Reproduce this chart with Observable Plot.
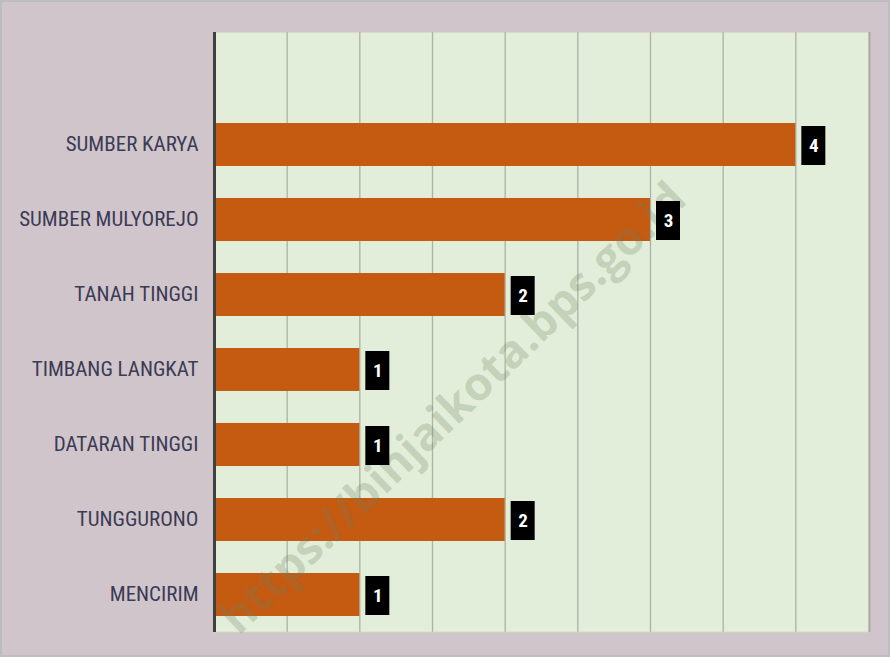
<!DOCTYPE html>
<html>
<head>
<meta charset="utf-8">
<script src="https://cdn.jsdelivr.net/npm/d3@7"></script>
<script src="https://cdn.jsdelivr.net/npm/@observablehq/plot@0.6"></script>
<style>
  html, body { margin: 0; padding: 0; background: #d0c5cb; }
  #wrap { position: relative; width: 890px; height: 657px; overflow: hidden; }
  #wrap svg { display: block; }
  #border { position: absolute; left: 0; top: 0; width: 890px; height: 657px; box-sizing: border-box; border: 2px solid #bdbdbd; pointer-events: none; }
</style>
</head>
<body>
<div id="wrap"><div id="chart"></div><div id="border"></div></div>
<script>
const categories = ["SUMBER KARYA", "SUMBER MULYOREJO", "TANAH TINGGI", "TIMBANG LANGKAT", "DATARAN TINGGI", "TUNGGURONO", "MENCIRIM"];
const values = [4, 3, 2, 1, 1, 2, 1];
const gridTicks = [0.5, 1, 1.5, 2, 2.5, 3, 3.5, 4];
const watermark = ["https://binjaikota.bps.go.id"];

const data = categories.map((name, i) => ({name, value: values[i]}));
const font = "'Liberation Sans Narrow', 'Arial Narrow', 'Roboto Condensed', 'DejaVu Sans Condensed', sans-serif";

const chart = Plot.plot({
  width: 890,
  height: 657,
  marginLeft: 214,
  marginRight: 22,
  marginTop: 32,
  marginBottom: 25,
  style: {background: "#d0c5cb", fontFamily: font, overflow: "visible"},
  x: {domain: [0, 4.5], axis: null},
  y: {domain: ["", ...categories], paddingInner: 0.427, paddingOuter: 0.213, label: null},
  marks: [
    Plot.frame({fill: "#e2eed9", stroke: null}),
    Plot.ruleX(gridTicks, {stroke: "#aab3a4", strokeWidth: 1.3}),
    Plot.ruleX([4.5], {stroke: "#a9aaa6", strokeWidth: 2, dx: 1}),
    Plot.frame({anchor: "bottom", stroke: "#c9d3c2", strokeWidth: 1.5}),
    Plot.barX(data, {x: "value", y: "name", fill: "#c55a11"}),
    Plot.text(watermark, {frameAnchor: "middle", dx: -88, dy: 76, rotate: -44, fontSize: 46, fontWeight: "bold", fill: "#6f8060", fillOpacity: 0.26, fontFamily: "'Open Sans', sans-serif"}),
    Plot.barX(data, {x1: "value", x2: "value", y: "name", insetLeft: 6, insetRight: -30, insetTop: 3, insetBottom: 1, fill: "black"}),
    Plot.text(data, {x: "value", y: "name", text: d => String(d.value), dx: 18, dy: 1, fill: "white", fontWeight: "bold", fontSize: 19}),
    Plot.ruleX([0], {stroke: "#404040", strokeWidth: 3}),
    Plot.axisY({tickSize: 0, tickPadding: 16, fontSize: 21, fill: "#3b3b55", label: null, dy: -1})
  ]
});
document.getElementById("chart").appendChild(chart);
</script>
</body>
</html>
